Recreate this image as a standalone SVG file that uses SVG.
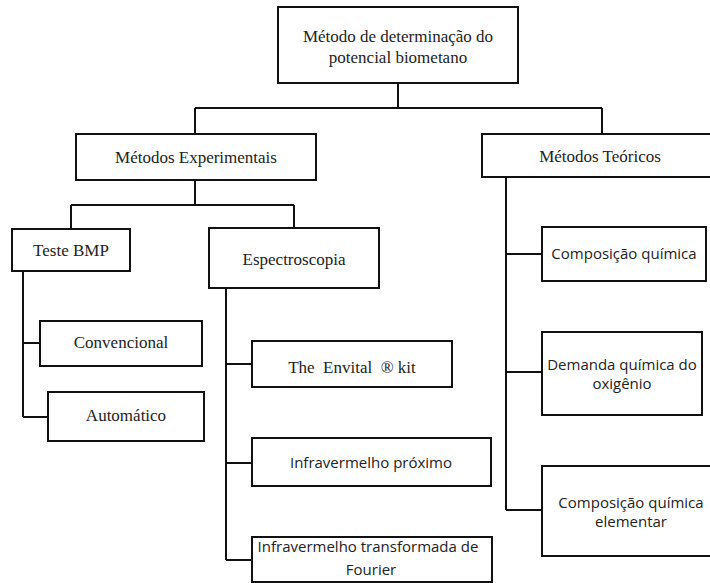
<svg xmlns="http://www.w3.org/2000/svg" width="710" height="583" viewBox="0 0 710 583">
<style>
rect{fill:#fff;stroke:#111;stroke-width:2}
.c path{fill:none;stroke:#111;stroke-width:2}
.s{font-family:"Liberation Serif","Times New Roman",serif;font-size:17px;fill:#222;text-anchor:middle}
.a{font-family:"Open Sans","Liberation Sans",sans-serif;font-size:15px;fill:#222;text-anchor:middle}
</style>
<rect x="0" y="0" width="710" height="583" style="stroke:none"/>
<g class="c" id="connectors">
<path d="M398 83V108M195 108H602M195 108V134M602 108V134"/>
<path d="M195 180V205M71 205H294M71 205V229M294 205V228"/>
<path d="M23 271V417M23 343H40M23 417H48"/>
<path d="M226 288V560M226 364H252M226 463H252M226 560H252"/>
<path d="M506 177V510M506 254H542M506 372H542M506 510H542"/>
</g>
<g id="root"><rect x="278" y="7" width="240" height="76"/><text class="s" x="398" y="42">Método de determinação do</text><text class="s" x="398" y="63">potencial biometano</text></g>
<g id="exp"><rect x="76" y="134" width="240" height="46"/><text class="s" x="196" y="163">Métodos Experimentais</text></g>
<g id="teo"><rect x="482" y="134" width="236" height="43"/><text class="s" x="600" y="162">Métodos Teóricos</text></g>
<g id="bmp"><rect x="12" y="229" width="118" height="42"/><text class="s" x="71" y="256">Teste BMP</text></g>
<g id="esp"><rect x="209" y="228" width="170" height="60"/><text class="s" x="294" y="265">Espectroscopia</text></g>
<g id="conv"><rect x="40" y="321" width="162" height="45"/><text class="s" x="121" y="348">Convencional</text></g>
<g id="auto"><rect x="48" y="392" width="156" height="49"/><text class="s" x="126" y="421">Automático</text></g>
<g id="envital"><rect x="252" y="341" width="200" height="46"/><text class="s" x="352" y="373" xml:space="preserve">The  Envital  ® kit</text></g>
<g id="nir"><rect x="252" y="438" width="239" height="48"/><text class="a" x="371" y="468">Infravermelho próximo</text></g>
<g id="ftir"><rect x="252" y="537" width="240" height="45"/><text class="a" x="368" y="552">Infravermelho transformada de</text><text class="a" x="371" y="575">Fourier</text></g>
<g id="comp"><rect x="542" y="227" width="164" height="54"/><text class="a" x="624" y="259">Composição química</text></g>
<g id="dqo"><rect x="542" y="332" width="160" height="83"/><text class="a" x="622" y="370">Demanda química do</text><text class="a" x="622" y="389">oxigênio</text></g>
<g id="elem"><rect x="542" y="466" width="178" height="90"/><text class="a" x="631" y="508">Composição química</text><text class="a" x="631" y="527">elementar</text></g>
</svg>
